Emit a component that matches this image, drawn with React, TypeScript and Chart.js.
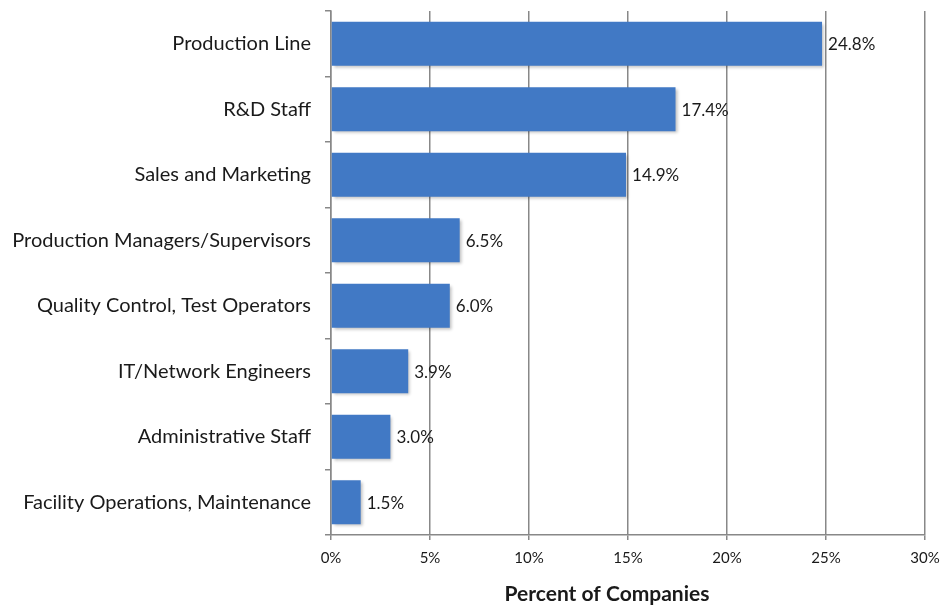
import React, { useEffect, useRef } from "react";
import { Chart, registerables } from "chart.js";

Chart.register(...registerables);

const categories = [
  "Production Line",
  "R&D Staff",
  "Sales and Marketing",
  "Production Managers/Supervisors",
  "Quality Control, Test Operators",
  "IT/Network Engineers",
  "Administrative Staff",
  "Facility Operations, Maintenance",
];
const values = [24.8, 17.4, 14.9, 6.5, 6.0, 3.9, 3.0, 1.5];
const xTickValues = [0, 5, 10, 15, 20, 25, 30];
const xTitle = "Percent of Companies";

const FONT = "Lato, 'Open Sans', sans-serif";

const barLabels = {
  id: "barLabels",
  afterDatasetsDraw(chart: any) {
    const ctx = chart.ctx;
    const meta = chart.getDatasetMeta(0);
    ctx.save();
    ctx.font = `17px ${FONT}`;
    ctx.fillStyle = "#1a1a1a";
    ctx.textAlign = "left";
    ctx.textBaseline = "middle";
    meta.data.forEach((bar: any, i: number) => {
      ctx.fillText(values[i].toFixed(1) + "%", bar.x + 6, bar.y + 1);
    });
    ctx.restore();
  },
};

const axisTitle = {
  id: "axisTitle",
  afterDraw(chart: any) {
    const ctx = chart.ctx;
    const area = chart.chartArea;
    ctx.save();
    ctx.font = `bold 21px ${FONT}`;
    ctx.fillStyle = "#1a1a1a";
    ctx.textAlign = "center";
    ctx.textBaseline = "middle";
    ctx.fillText(xTitle, (area.left + area.right) / 2 - 21, area.bottom + 59);
    ctx.restore();
  },
};

const barShadow = {
  id: "barShadow",
  beforeDatasetDraw(chart: any) {
    const ctx = chart.ctx;
    ctx.save();
    ctx.shadowColor = "rgba(0,0,0,0.25)";
    ctx.shadowBlur = 3;
    ctx.shadowOffsetX = 2;
    ctx.shadowOffsetY = 2;
  },
  afterDatasetDraw(chart: any) {
    chart.ctx.restore();
  },
};

export default function App() {
  const ref = useRef<HTMLCanvasElement | null>(null);
  useEffect(() => {
    document.body.style.margin = "0";
    const canvas = ref.current;
    if (!canvas) return;
    const chart = new Chart(canvas, {
      type: "bar",
      data: {
        labels: categories,
        datasets: [
          {
            data: values,
            backgroundColor: "#4179C5",
            borderWidth: 0,
            barPercentage: 1,
            categoryPercentage: 0.672,
          },
        ],
      },
      options: {
        indexAxis: "y",
        animation: false,
        responsive: false,
        maintainAspectRatio: false,
        layout: { padding: { top: 11, right: 0, left: 0, bottom: 0 } },
        plugins: {
          legend: { display: false },
          tooltip: { enabled: false },
        },
        scales: {
          x: {
            min: 0,
            max: 30,
            afterBuildTicks: (scale: any) => {
              scale.ticks = xTickValues.map((v) => ({ value: v }));
            },
            afterFit: (scale: any) => {
              scale.height = 70;
              scale.paddingLeft = 0;
              scale.paddingRight = 15;
            },
            ticks: {
              callback: (v: any) => v + "%",
              font: { family: FONT, size: 15 },
              color: "#1a1a1a",
              padding: 9,
              maxRotation: 0,
            },
            grid: {
              color: "#888888",
              lineWidth: 1.5,
              tickLength: 5,
              drawTicks: true,
            },
            border: { color: "#888888", width: 1.5 },
          },
          y: {
            afterFit: (scale: any) => {
              scale.width = 331;
              scale.paddingTop = 0;
              scale.paddingBottom = 0;
            },
            ticks: {
              font: { family: FONT, size: 20 },
              color: "#1a1a1a",
              padding: 14,
            },
            grid: {
              drawOnChartArea: false,
              drawTicks: true,
              tickLength: 6,
              color: "#888888",
              lineWidth: 1.5,
            },
            border: { color: "#888888", width: 1.5 },
          },
        },
      },
      plugins: [barShadow, barLabels, axisTitle],
    } as any);
    return () => chart.destroy();
  }, []);
  return (
    <div style={{ width: 940, height: 605, background: "#fff" }}>
      <canvas ref={ref} width={940} height={605} style={{ display: "block" }} />
    </div>
  );
}
